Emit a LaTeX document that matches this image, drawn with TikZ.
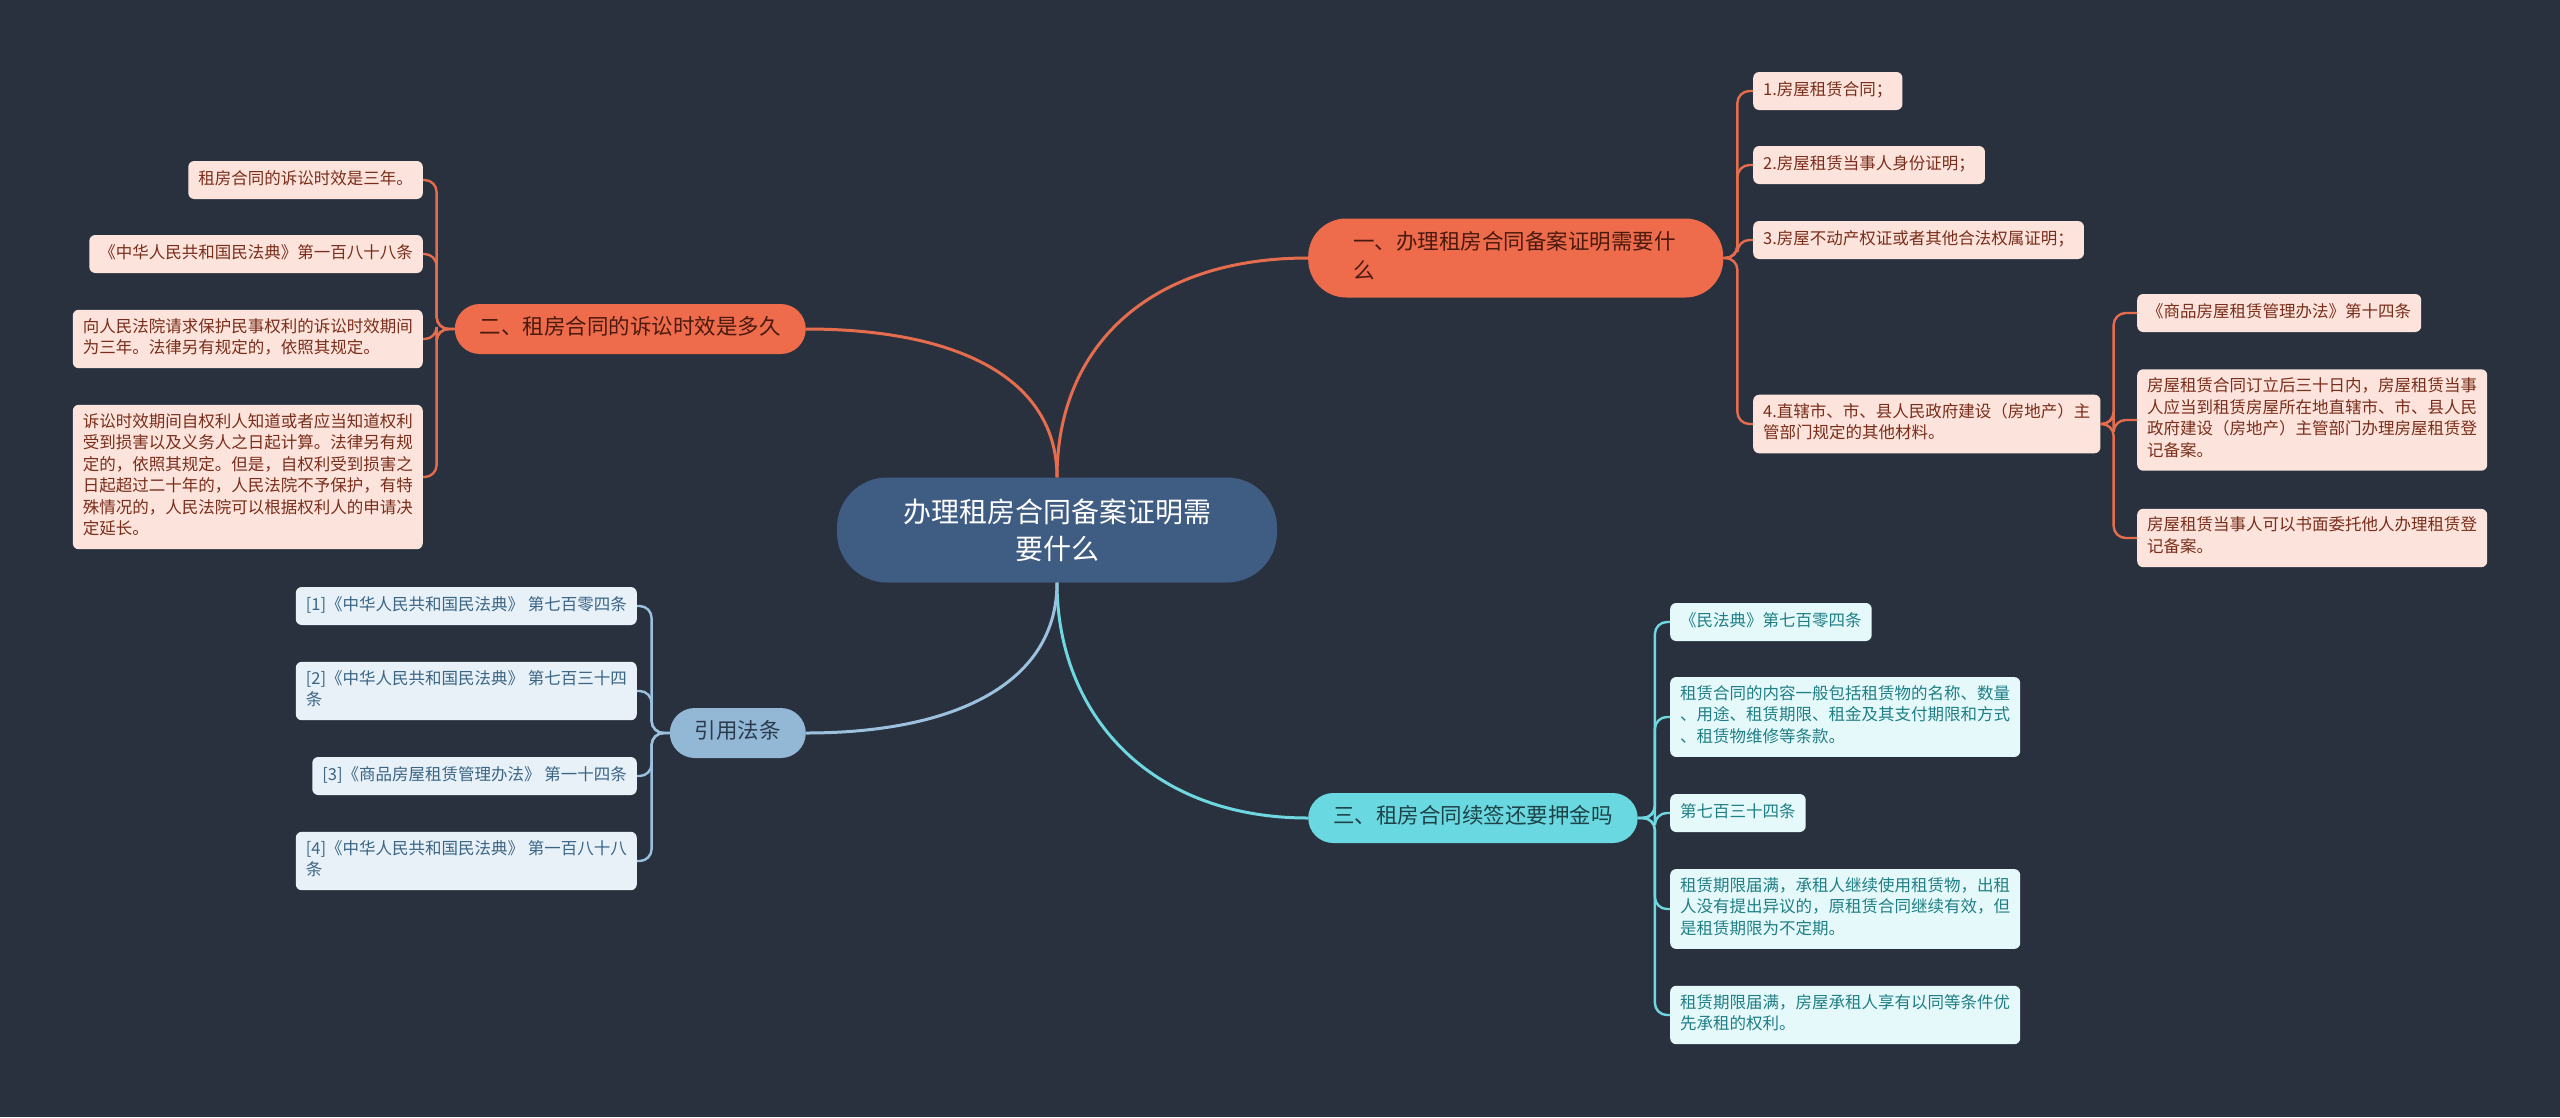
\documentclass[tikz,border=0pt]{standalone}
\usepackage{fontspec}
\newfontfamily\cjk{Noto Sans CJK SC}
\usepackage{xcolor}
\definecolor{bgc}{HTML}{29313F}
\definecolor{rootc}{HTML}{3F5C83}
\definecolor{orc}{HTML}{EE6C4C}
\definecolor{ortx}{HTML}{4A1A0E}
\definecolor{orleaf}{HTML}{FCE4DC}
\definecolor{orleaftx}{HTML}{7A2D1A}
\definecolor{orl}{HTML}{E56D4D}
\definecolor{cyc}{HTML}{6AD8E0}
\definecolor{cytx}{HTML}{1D4348}
\definecolor{cyleaf}{HTML}{E5F9FA}
\definecolor{cyleaftx}{HTML}{1F7F86}
\definecolor{cyl}{HTML}{6ED7E0}
\definecolor{blc}{HTML}{93B8D6}
\definecolor{bltx}{HTML}{2B3B4D}
\definecolor{blleaf}{HTML}{E9F1F8}
\definecolor{blleaftx}{HTML}{3A6585}
\definecolor{bll}{HTML}{9CC1DE}

\begin{document}
\begin{tikzpicture}[x=1pt, y=-1pt,
  root/.style={fill=rootc, text=white, rounded corners=50pt, minimum width=440pt,
    minimum height=105pt, align=center, font=\cjk\fontsize{28}{37}\selectfont},
  branch/.style={rounded corners=25pt, inner xsep=25pt, inner ysep=10.5pt, align=left,
    font=\cjk\fontsize{21.5}{29}\selectfont,
    execute at begin node=\strut, execute at end node=\strut},
  leaf/.style={rounded corners=6pt, inner xsep=10pt, inner ysep=8.25pt, align=left,
    font=\cjk\fontsize{16.5}{21.5}\selectfont,
    execute at begin node=\strut, execute at end node=\strut},
  orbranch/.style={branch, fill=orc, text=ortx},
  cybranch/.style={branch, fill=cyc, text=cytx},
  blbranch/.style={branch, fill=blc, text=bltx},
  orleafbox/.style={leaf, fill=orleaf, text=orleaftx},
  cyleafbox/.style={leaf, fill=cyleaf, text=cyleaftx},
  blleafbox/.style={leaf, fill=blleaf, text=blleaftx},
  link/.style={line width=3pt},
  twig/.style={line width=2.4pt, rounded corners=12pt}
]
  \fill[bgc] (0,0) rectangle (2560,1117);

  \node[root] (root) at (1057,530) {办理租房合同备案证明需\\要什么};

  \node[orbranch, anchor=west, text width=325pt, inner xsep=45pt, rounded corners=38pt] (b1) at (1308,258)
    {一、办理租房合同备案证明需要什\\么};
  \node[orbranch, anchor=east] (b2) at (806,329) {二、租房合同的诉讼时效是多久};
  \node[cybranch, anchor=west] (b3) at (1308,818) {三、租房合同续签还要押金吗};
  \node[blbranch, anchor=east] (b4) at (806,733) {引用法条};

  \node[orleafbox, anchor=west] (l1a) at (1753,91) {1.房屋租赁合同；};
  \node[orleafbox, anchor=west] (l1b) at (1753,165) {2.房屋租赁当事人身份证明；};
  \node[orleafbox, anchor=west] (l1c) at (1753,240) {3.房屋不动产权证或者其他合法权属证明；};
  \node[orleafbox, anchor=west] (l1d) at (1753,424)
    {4.直辖市、市、县人民政府建设（房地产）主\\管部门规定的其他材料。};

  \node[orleafbox, anchor=west] (s1) at (2137,313) {《商品房屋租赁管理办法》第十四条};
  \node[orleafbox, anchor=west] (s2) at (2137,420)
    {房屋租赁合同订立后三十日内，房屋租赁当事\\人应当到租赁房屋所在地直辖市、市、县人民\\政府建设（房地产）主管部门办理房屋租赁登\\记备案。};
  \node[orleafbox, anchor=west] (s3) at (2137,538)
    {房屋租赁当事人可以书面委托他人办理租赁登\\记备案。};

  \node[orleafbox, anchor=east] (l2a) at (423,180) {租房合同的诉讼时效是三年。};
  \node[orleafbox, anchor=east] (l2b) at (423,254) {《中华人民共和国民法典》第一百八十八条};
  \node[orleafbox, anchor=east] (l2c) at (423,339)
    {向人民法院请求保护民事权利的诉讼时效期间\\为三年。法律另有规定的，依照其规定。};
  \node[orleafbox, anchor=east] (l2d) at (423,477)
    {诉讼时效期间自权利人知道或者应当知道权利\\受到损害以及义务人之日起计算。法律另有规\\定的，依照其规定。但是，自权利受到损害之\\日起超过二十年的，人民法院不予保护，有特\\殊情况的，人民法院可以根据权利人的申请决\\定延长。};

  \node[blleafbox, anchor=east] (l4a) at (637,606) {[1]《中华人民共和国民法典》 第七百零四条};
  \node[blleafbox, anchor=east] (l4b) at (637,691) {[2]《中华人民共和国民法典》 第七百三十四\\条};
  \node[blleafbox, anchor=east] (l4c) at (637,776) {[3]《商品房屋租赁管理办法》 第一十四条};
  \node[blleafbox, anchor=east] (l4d) at (637,861) {[4]《中华人民共和国民法典》 第一百八十八\\条};

  \node[cyleafbox, anchor=west] (l3a) at (1670,622) {《民法典》第七百零四条};
  \node[cyleafbox, anchor=west] (l3b) at (1670,717)
    {租赁合同的内容一般包括租赁物的名称、数量\\、用途、租赁期限、租金及其支付期限和方式\\、租赁物维修等条款。};
  \node[cyleafbox, anchor=west] (l3c) at (1670,813) {第七百三十四条};
  \node[cyleafbox, anchor=west] (l3d) at (1670,909)
    {租赁期限届满，承租人继续使用租赁物，出租\\人没有提出异议的，原租赁合同继续有效，但\\是租赁期限为不定期。};
  \node[cyleafbox, anchor=west] (l3e) at (1670,1015)
    {租赁期限届满，房屋承租人享有以同等条件优\\先承租的权利。};

  \draw[link, orl] (root.north) .. controls +(0,-130) and +(-160,0) .. (b1.west);
  \draw[link, orl] (root.north) .. controls +(0,-100) and +(150,0) .. (b2.east);
  \draw[link, cyl] (root.south) .. controls +(0,130) and +(-160,0) .. (b3.west);
  \draw[link, bll] (root.south) .. controls +(0,100) and +(150,0) .. (b4.east);

  \foreach \n in {l1a,l1b,l1c,l1d}
    \draw[twig, orl] (b1.east) -- ++(14,0) |- (\n.west);
  \foreach \n in {s1,s2,s3}
    \draw[twig, orl] (l1d.east) -- ++(13,0) |- (\n.west);
  \foreach \n in {l2a,l2b,l2c,l2d}
    \draw[twig, orl] (b2.west) -- ++(-18,0) |- (\n.east);
  \foreach \n in {l4a,l4b,l4c,l4d}
    \draw[twig, bll] (b4.west) -- ++(-18,0) |- (\n.east);
  \foreach \n in {l3a,l3b,l3c,l3d,l3e}
    \draw[twig, cyl] (b3.east) -- ++(17,0) |- (\n.west);
\end{tikzpicture}
\end{document}
